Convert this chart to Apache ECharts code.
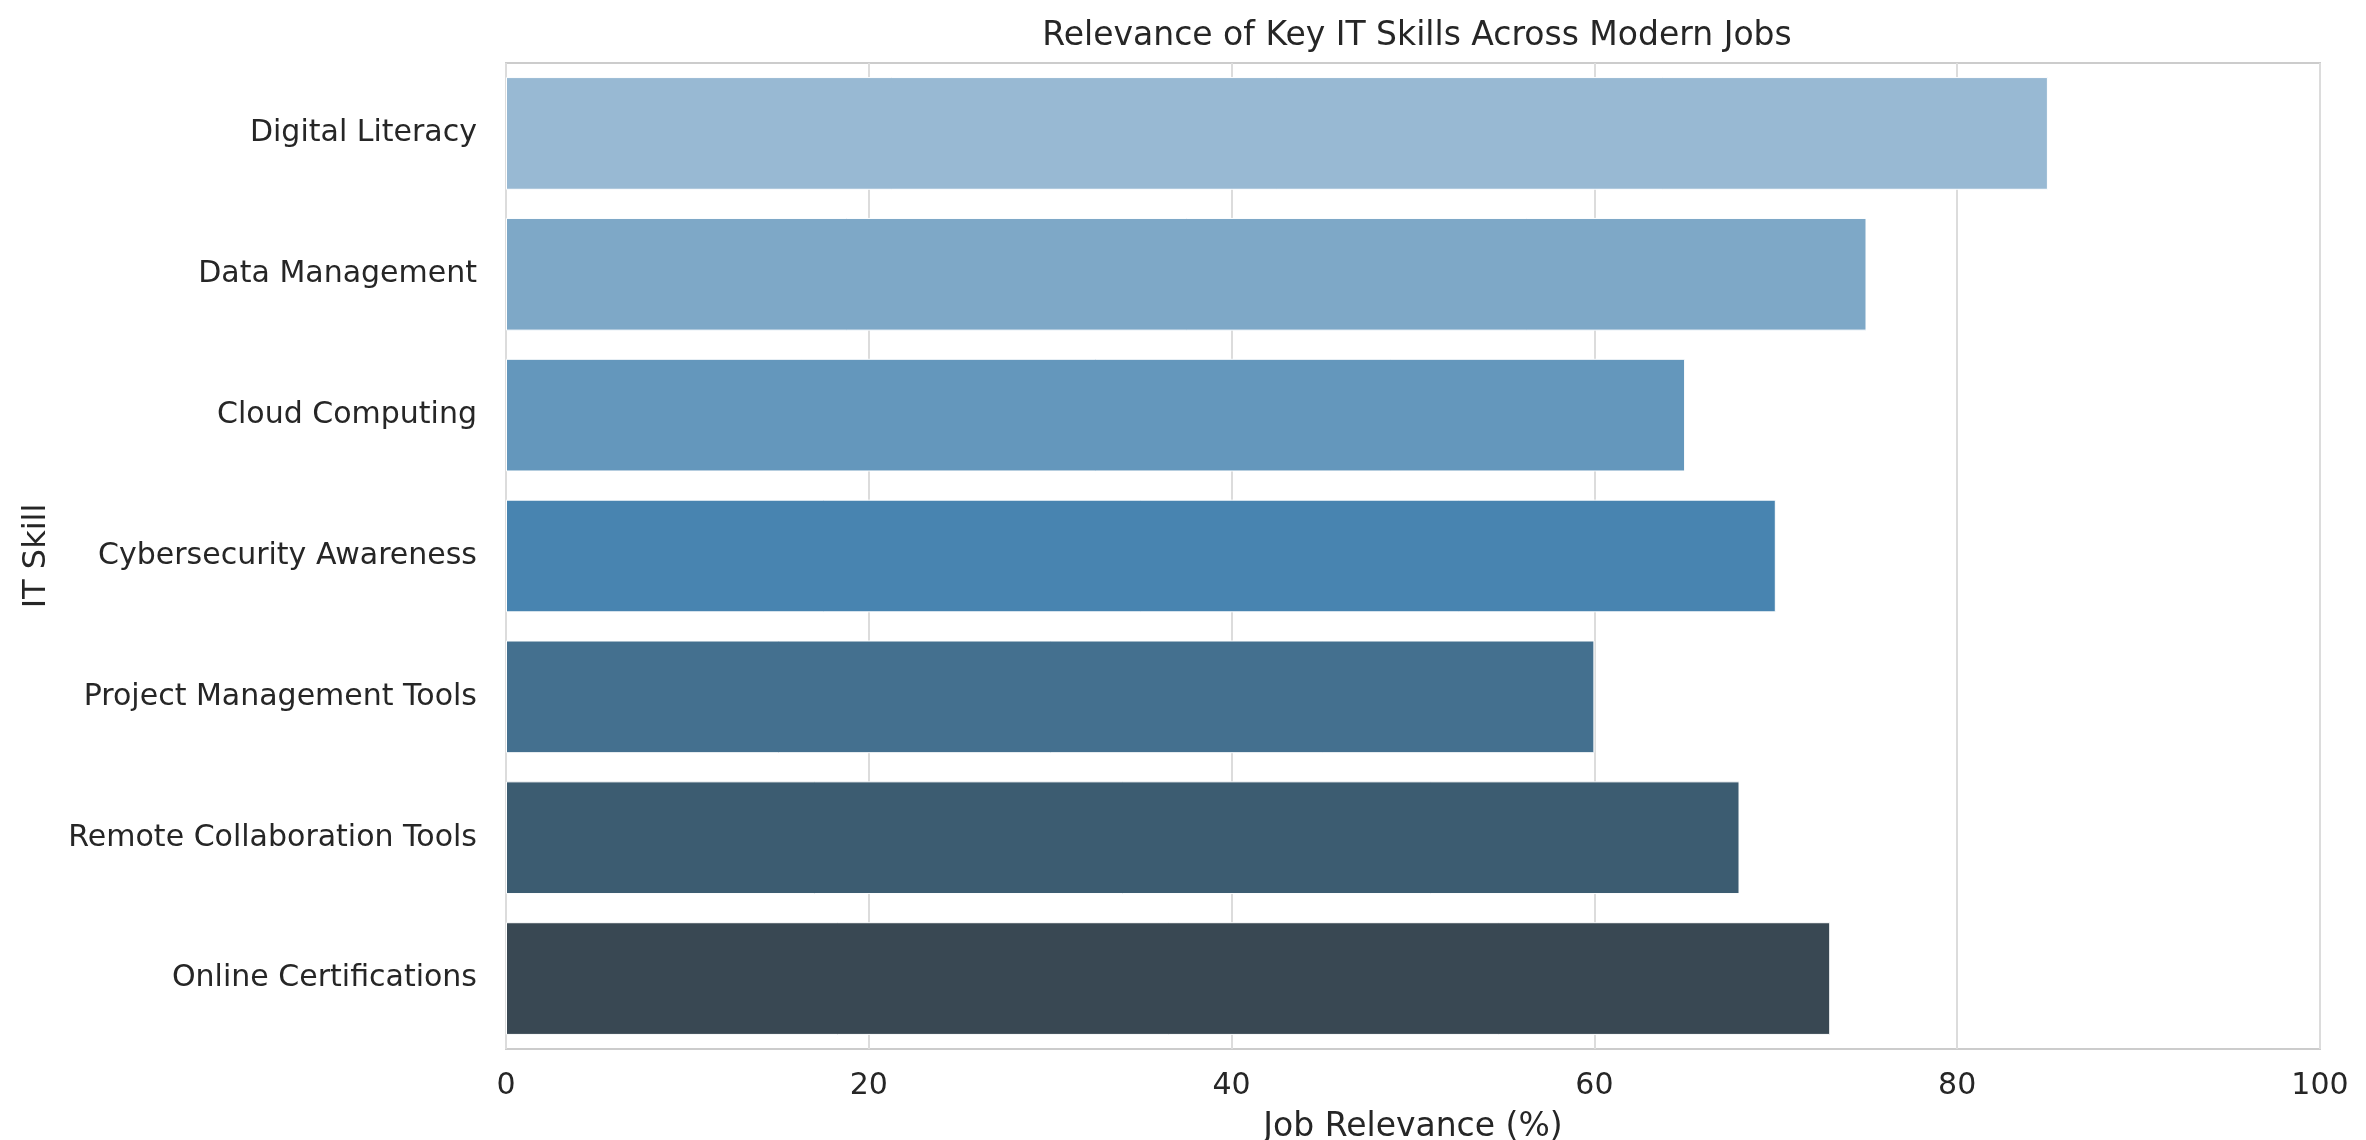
<!DOCTYPE html>
<html>
<head>
<meta charset="utf-8">
<title>Relevance of Key IT Skills Across Modern Jobs</title>
<script src="https://cdn.jsdelivr.net/npm/echarts@6/dist/echarts.min.js"></script>
<style>
    html, body { margin: 0; padding: 0; background: #fff; }
    #chart { width: 2366px; height: 1140px; }
</style>
</head>
<body>
<div id="chart"></div>
<script>
// Data
var skills = [
    'Digital Literacy', 'Data Management', 'Cloud Computing',
    'Cybersecurity Awareness', 'Project Management Tools',
    'Remote Collaboration Tools', 'Online Certifications'
];
var relevance = [85, 75, 65, 70, 60, 68, 73];

// Blues_d style palette, light to dark
var barColors = ['#98b9d3', '#7ea8c7', '#6497bc', '#4884b0', '#44708f', '#3c5c71', '#394853'];

var chart = echarts.init(document.getElementById('chart'));

var fontFamily = '"DejaVu Sans", sans-serif';

var option = {
    backgroundColor: '#ffffff',
    textStyle: { fontFamily: fontFamily, color: '#262626' },
    animation: false,

    title: {
        text: 'Relevance of Key IT Skills Across Modern Jobs',
        left: 1412,
        top: 15,
        textAlign: 'center',
        textStyle: { fontFamily: fontFamily, fontSize: 33, fontWeight: 'normal', color: '#262626' }
    },

    // fixed plot box; the x-axis name is allowed to run off the bottom edge
    grid: {
        left: 506,
        top: 63,
        width: 1814,
        height: 986,
        outerBoundsMode: 'none',
        containLabel: false,
        show: true,
        borderColor: '#cccccc',
        borderWidth: 2,
        backgroundColor: 'transparent'
    },

    xAxis: {
        type: 'value',
        min: 0,
        max: 100,
        interval: 20,
        name: 'Job Relevance (%)',
        nameLocation: 'middle',
        nameGap: 62,
        nameMoveOverlap: false,
        nameTextStyle: { fontSize: 33, color: '#262626', fontFamily: fontFamily },
        axisLine: { show: false },
        axisTick: { show: false },
        axisLabel: { fontSize: 30, color: '#262626', margin: 22, fontFamily: fontFamily },
        splitLine: { show: true, lineStyle: { color: '#dcdcdc', width: 2 } }
    },

    yAxis: {
        type: 'category',
        data: skills,
        inverse: true,
        name: 'IT Skill',
        nameLocation: 'middle',
        nameGap: 453,
        nameMoveOverlap: false,
        nameTextStyle: { fontSize: 32, color: '#262626', fontFamily: fontFamily },
        axisLine: { show: false },
        axisTick: { show: false },
        axisLabel: { fontSize: 30, color: '#262626', margin: 29, padding: [5, 0, 0, 0], fontFamily: fontFamily },
        splitLine: { show: false }
    },

    series: [{
        name: 'Job Relevance',
        type: 'bar',
        barCategoryGap: '20%',
        data: relevance.map(function(v, i) {
            return { value: v, itemStyle: { color: barColors[i] } };
        }),
        itemStyle: { borderColor: '#ffffff', borderWidth: 1 }
    }]
};

chart.setOption(option);
</script>
</body>
</html>
